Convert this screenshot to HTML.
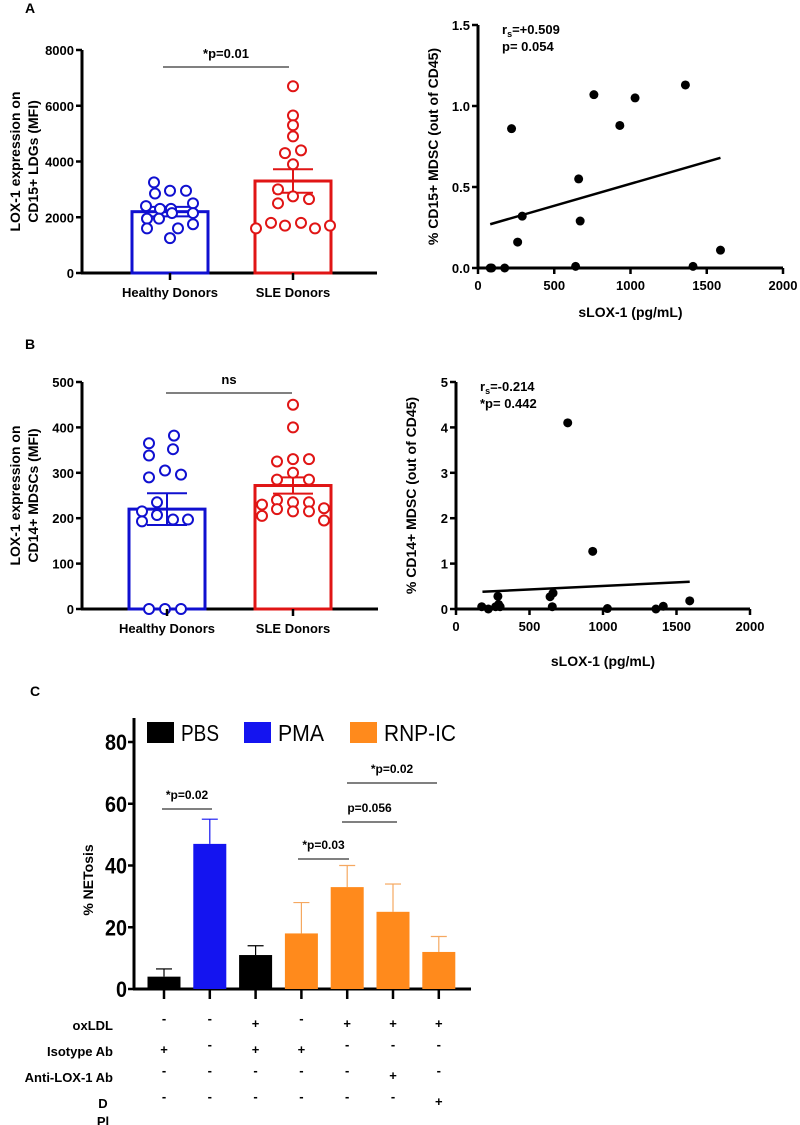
<!DOCTYPE html>
<html><head><meta charset="utf-8"><style>
html,body{margin:0;padding:0;background:#fff;}
svg{display:block;font-family:"Liberation Sans",Arial,sans-serif;}
</style></head><body>
<svg id="fig" width="800" height="1125" viewBox="0 0 800 1125">
<g id="root"></g>
</svg>
<script>
// ---------- DATA ----------
const aGroups=["Healthy Donors","SLE Donors"];
const aMeans=[2200,3300];
const aErr=[170,420];
const aBlue=[3250,2850,2950,2950,2400,2300,2300,2500,1950,1950,2150,2150,1600,1600,1750,1250];
const aBlueJit=[-16,-15,0,16,-24,-10,1,23,-23,-11,2,23,-23,8,23,0];
const aRed=[6700,5650,5300,4900,4300,4400,3900,3000,2500,2750,2650,1800,1700,1800,1600,1600,1700];
const aRedJit=[0,0,0,0,-8,8,0,-15,-15,0,16,-22,-8,8,-37,22,37];
const aTicks=[0,2000,4000,6000,8000];

const sAx=[80,90,175,220,260,290,640,660,670,760,930,1030,1360,1410,1590];
const sAy=[0,0,0,0.86,0.16,0.32,0.01,0.55,0.29,1.07,0.88,1.05,1.13,0.01,0.11];
const sAline=[[80,0.27],[1590,0.68]];
const sAyTicks=["0.0","0.5","1.0","1.5"];
const sXTicks=[0,500,1000,1500,2000];

const bMeans=[220,272];
const bErr=[35,18];
const bBlue=[365,382,338,352,290,305,296,235,215,207,193,197,197,0,0,0];
const bBlueJit=[-18,7,-18,6,-18,-2,14,-10,-25,-10,-25,6,21,-18,-2,14];
const bRed=[450,400,325,330,330,300,285,285,230,240,235,235,205,220,215,215,222,195];
const bRedJit=[0,0,-16,0,16,0,-16,16,-31,-16,0,16,-31,-16,0,16,31,31];
const bTicks=[0,100,200,300,400,500];

const sBx=[175,220,270,285,290,300,640,660,655,760,930,1030,1360,1410,1590];
const sBy=[0.05,0,0.05,0.28,0.1,0.05,0.27,0.35,0.05,4.1,1.27,0.01,0,0.06,0.18];
const sBline=[[180,0.38],[1590,0.6]];
const sByTicks=[0,1,2,3,4,5];

const cVals=[4,47,11,18,33,25,12];
const cErrTop=[6.5,55,14,28,40,34,17];
const cCols=["#000","#1414f0","#000","#ff8a1c","#ff8a1c","#ff8a1c","#ff8a1c"];
const cTicks=[0,20,40,60,80];
const cRows=["oxLDL","Isotype Ab","Anti-LOX-1 Ab","D"];
const cSigns=[["-","-","+","-","+","+","+"],["+","-","+","+","-","-","-"],["-","-","-","-","-","+","-"],["-","-","-","-","-","-","+"]];

// ---------- HELPERS ----------
const NS="http://www.w3.org/2000/svg";
const root=document.getElementById('root');
function el(tag,attrs,parent,txt){const e=document.createElementNS(NS,tag);for(const k in attrs)e.setAttribute(k,attrs[k]);if(txt!==undefined)e.textContent=txt;(parent||root).appendChild(e);return e;}
function grp(name){const g=el('g',{});


return g;}
function line(p,x1,y1,x2,y2,c,w){return el('line',{x1,y1,x2,y2,stroke:c||'#000','stroke-width':w||1},p);}
function text(p,x,y,s,size,anchor,extra){const a=Object.assign({x,y,'font-size':size,'font-weight':'bold','text-anchor':anchor||'middle',fill:'#000'},extra||{});return el('text',a,p,s);}

// ---------- PANEL LABELS ----------
{const g=grp('panel-labels');
text(g,30,13,'A',14);text(g,30,349,'B',14);text(g,35,696,'C',14);}

// ---------- BAR + DOT PLOT ----------
function barDot(name,x0,x1,yTop,yBot,max,ticks,means,errs,blue,bj,red,rj,centers,sig,sigY,sigX1,sigX2,ylab){
 const g=grp(name);
 const Y=v=>yBot-(v/max)*(yBot-yTop);
 line(g,x0,yTop,x0,yBot+1,'#000',3);
 line(g,x0-1,yBot,x1,yBot,'#000',3);
 ticks.forEach(t=>{line(g,x0-6,Y(t),x0,Y(t),'#000',2.5);text(g,x0-8,Y(t)+5,String(t),13,'end');});
 const cols=['#1010d0','#e01515'];
 [blue,red].forEach((arr,i)=>{
  const c=centers[i];
  const b=el('rect',{x:c-38,y:Y(means[i]),width:76,height:yBot-Y(means[i]),fill:'none',stroke:cols[i],'stroke-width':3},g);
  
  
  line(g,c,Y(means[i]+errs[i]),c,Y(means[i]-errs[i]),cols[i],2);
  line(g,c-20,Y(means[i]+errs[i]),c+20,Y(means[i]+errs[i]),cols[i],2);
  line(g,c-20,Y(means[i]-errs[i]),c+20,Y(means[i]-errs[i]),cols[i],2);
  const jit=i?rj:bj;
  arr.forEach((v,k)=>{const p=el('circle',{cx:c+jit[k],cy:Y(v),r:5,fill:'#fff',stroke:cols[i],'stroke-width':2},g);
  
  });
  line(g,c,yBot,c,yBot+7,'#000',2.5);
  text(g,c,yBot+24,aGroups[i],13);
 });
 line(g,sigX1,sigY,sigX2,sigY,'#000',1);
 text(g,(sigX1+sigX2)/2,sigY-9,sig,13);
 const lg=el('text',{transform:`translate(${(x0-62)},${(yTop+yBot)/2}) rotate(-90)`,'font-size':14,'font-weight':'bold','text-anchor':'middle'},g);
 el('tspan',{x:0,dy:0},lg,ylab[0]);el('tspan',{x:0,dy:18},lg,ylab[1]);
}
barDot('chart-a-bar',82,377,50,273,8000,aTicks,aMeans,aErr,aBlue,aBlueJit,aRed,aRedJit,[170,293],'*p=0.01',67,163,289,['LOX-1 expression on','CD15+ LDGs (MFI)']);
barDot('chart-b-bar',82,378,382,609,500,bTicks,bMeans,bErr,bBlue,bBlueJit,bRed,bRedJit,[167,293],'ns',393,166,292,['LOX-1 expression on','CD14+ MDSCs (MFI)']);

// ---------- SCATTER ----------
function scatter(name,x0,x1,yTop,yBot,ymax,ylabels,xs,ys,ln,ann,ylab,xlabY){
 const g=grp(name);
 const X=v=>x0+v/2000*(x1-x0);
 const Y=v=>yBot-v/ymax*(yBot-yTop);
 line(g,x0,yTop,x0,yBot+1,'#000',3);
 line(g,x0-1,yBot,x1,yBot,'#000',3);
 ylabels.forEach(t=>{const v=parseFloat(t);line(g,x0-6,Y(v),x0,Y(v),'#000',2.5);text(g,x0-8,Y(v)+5,String(t),13,'end');});
 sXTicks.forEach(t=>{line(g,X(t),yBot,X(t),yBot+6,'#000',2.5);text(g,X(t),yBot+22,String(t),13);});
 const l=el('line',{x1:X(ln[0][0]),y1:Y(ln[0][1]),x2:X(ln[1][0]),y2:Y(ln[1][1]),stroke:'#000','stroke-width':2.5},g);
 
 
 xs.forEach((v,i)=>{const p=el('circle',{cx:X(v),cy:Y(ys[i]),r:4.5,fill:'#000'},g);
 
 });
 const t1=text(g,x0+24,yTop+9,'r',13,'start');
 el('tspan',{'font-size':9,dy:3},t1,'s');el('tspan',{dy:-3},t1,ann[0]);
 text(g,x0+24,yTop+26,ann[1],13,'start');
 el('text',{transform:`translate(${x0-40},${(yTop+yBot)/2}) rotate(-90)`,'font-size':14,'font-weight':'bold','text-anchor':'middle'},g,ylab);
 text(g,(x0+x1)/2,xlabY,'sLOX-1 (pg/mL)',14);
}
scatter('chart-a-scatter',478,783,25,268,1.5,sAyTicks,sAx,sAy,sAline,['=+0.509','p= 0.054'],'% CD15+ MDSC (out of CD45)',317);
scatter('chart-b-scatter',456,750,382,609,5,sByTicks,sBx,sBy,sBline,['=-0.214','*p= 0.442'],'% CD14+ MDSC (out of CD45)',666);

// ---------- PANEL C ----------
{const g=grp('chart-c-netosis');
 const x0=134,x1=471,yTop=742,yBot=989,ymax=80;
 const Y=v=>yBot-v/ymax*(yBot-yTop);
 const cx=i=>164+i*45.8;
 line(g,x0,718,x0,yBot+1,'#000',3);
 line(g,x0-1,yBot,x1,yBot,'#000',3);
 cTicks.forEach(t=>{line(g,x0-6,Y(t),x0,Y(t),'#000',2.5);text(g,x0-7,Y(t)+8,String(t),22,'end',{textLength:t?22:11,lengthAdjust:'spacingAndGlyphs'});});
 cVals.forEach((v,i)=>{
  const c=cx(i),col=cCols[i];
  const ec=col=='#000'?'#000':(col=='#1414f0'?'#1414f0':'#f5a860');
  line(g,c,Y(v),c,Y(cErrTop[i]),ec,1.2);
  line(g,c-8,Y(cErrTop[i]),c+8,Y(cErrTop[i]),ec,1.2);
  const r=el('rect',{x:c-16.5,y:Y(v),width:33,height:yBot-Y(v),fill:col},g);
  
  
  line(g,c,yBot,c,yBot+10,'#000',2.5);
  cSigns.forEach((row,k)=>text(g,c,1028+k*26+(row[i]=='-'?-5:0),row[i],13));
 });
 cRows.forEach((r,k)=>text(g,k==3?103:113,1030+k*26,r,13,k==3?'middle':'end'));
 text(g,103,1126,'Pl',13,'middle');
 // significance
 [[162,212,809,'*p=0.02'],[298,349,859,'*p=0.03'],[342,397,822,'p=0.056'],[347,437,783,'*p=0.02']].forEach(s=>{
  line(g,s[0],s[2],s[1],s[2],'#000',1);text(g,(s[0]+s[1])/2,s[2]-10,s[3],12);});
 el('text',{transform:`translate(93,${880}) rotate(-90)`,'font-size':14,'font-weight':'bold','text-anchor':'middle'},g,'% NETosis');
 // legend
 const lg=grp('legend');
 g.appendChild(lg);
 [['PBS','#000',147,38],['PMA','#1414f0',244,46],['RNP-IC','#ff8a1c',350,72]].forEach(L=>{
  const e=el('g',{},lg);
  
  
  el('rect',{x:L[2],y:722,width:27,height:21,fill:L[1]},e);
  el('text',{x:L[2]+34,y:741,'font-size':23,fill:'#000',textLength:L[3],lengthAdjust:'spacingAndGlyphs'},e,L[0]);
 });
}
</script>
</body></html>
